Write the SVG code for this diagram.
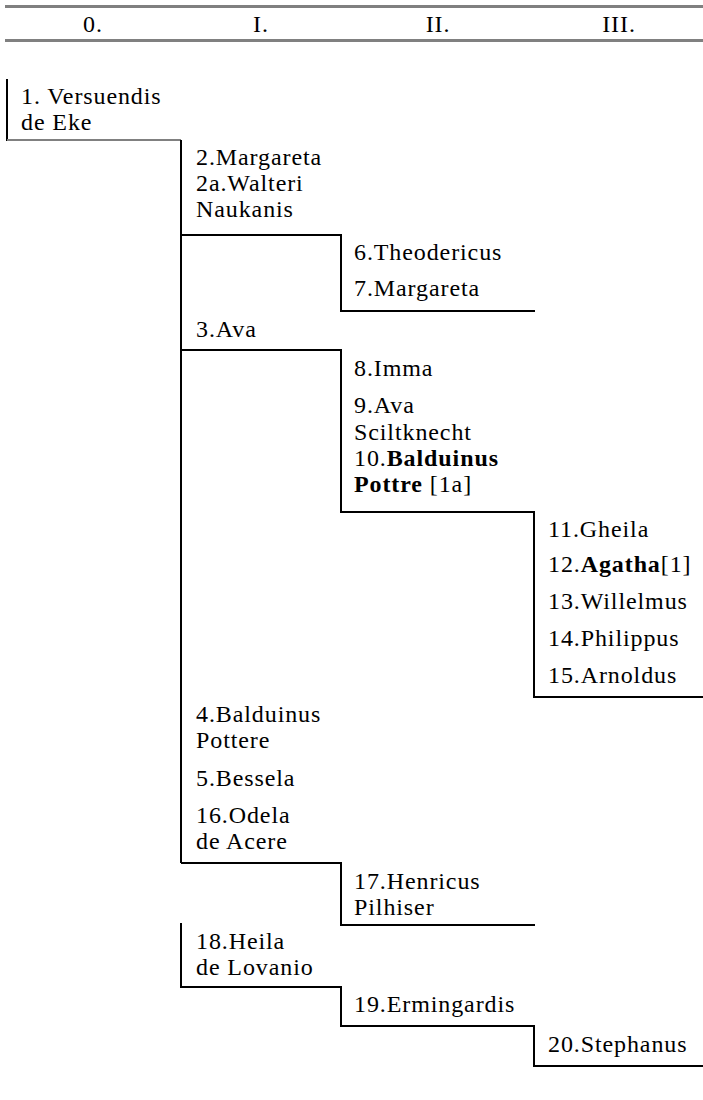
<svg xmlns="http://www.w3.org/2000/svg" width="703" height="1100" viewBox="0 0 703 1100">
<style>
text{font-family:"Liberation Serif","Times New Roman",serif;font-size:24px;letter-spacing:0.9px;fill:#000}
.b{font-weight:bold}
.h{text-anchor:middle}
.rule{stroke:#808080;stroke-width:3;fill:none}
.ln{stroke:#000;stroke-width:2;fill:none}
.gl{stroke:#808080;stroke-width:2;fill:none}
</style>
<rect width="703" height="1100" fill="#fff"/>
<g id="header">
<line class="rule" x1="5" y1="6.5" x2="703" y2="6.5"/>
<line class="rule" x1="5" y1="40.5" x2="703" y2="40.5"/>
<text class="h" x="93" y="32">0.</text>
<text class="h" x="261" y="32">I.</text>
<text class="h" x="438" y="32">II.</text>
<text class="h" x="619" y="32">III.</text>
</g>
<g id="connectors">
<path class="ln" d="M7,79 V141"/>
<path class="gl" d="M7,140 H181"/>
<path class="ln" d="M181,140 V863"/>
<path class="ln" d="M181,235 H341 V311 H535"/>
<path class="ln" d="M181,350 H341 V512 H534 V697 H703"/>
<path class="ln" d="M181,863 H341 V925 H535"/>
<path class="ln" d="M181,923 V987 H341 V1026 H534 V1066 H703"/>
</g>
<g id="n1">
<text x="21" y="104">1. Versuendis</text>
<text x="21" y="129.5">de Eke</text>
</g>
<g id="n2">
<text x="196" y="165">2.Margareta</text>
<text x="196" y="191">2a.Walteri</text>
<text x="196" y="217">Naukanis</text>
</g>
<g id="n6">
<text x="354" y="260">6.Theodericus</text>
<text x="354" y="296">7.Margareta</text>
</g>
<g id="n3">
<text x="196" y="337">3.Ava</text>
</g>
<g id="n8">
<text x="354" y="376">8.Imma</text>
<text x="354" y="413">9.Ava</text>
<text x="354" y="440">Sciltknecht</text>
<text x="354" y="466">10.<tspan class="b">Balduinus</tspan></text>
<text x="354" y="492"><tspan class="b">Pottre</tspan> [1a]</text>
</g>
<g id="n11">
<text x="548" y="537">11.Gheila</text>
<text x="548" y="572">12.<tspan class="b">Agatha</tspan>[1]</text>
<text x="548" y="609">13.Willelmus</text>
<text x="548" y="646">14.Philippus</text>
<text x="548" y="683">15.Arnoldus</text>
</g>
<g id="n4">
<text x="196" y="722">4.Balduinus</text>
<text x="196" y="748">Pottere</text>
<text x="196" y="786">5.Bessela</text>
<text x="196" y="823">16.Odela</text>
<text x="196" y="849">de Acere</text>
</g>
<g id="n17">
<text x="354" y="889">17.Henricus</text>
<text x="354" y="915">Pilhiser</text>
</g>
<g id="n18">
<text x="196" y="949">18.Heila</text>
<text x="196" y="975">de Lovanio</text>
</g>
<g id="n19">
<text x="354" y="1012">19.Ermingardis</text>
</g>
<g id="n20">
<text x="548" y="1052">20.Stephanus</text>
</g>
</svg>
